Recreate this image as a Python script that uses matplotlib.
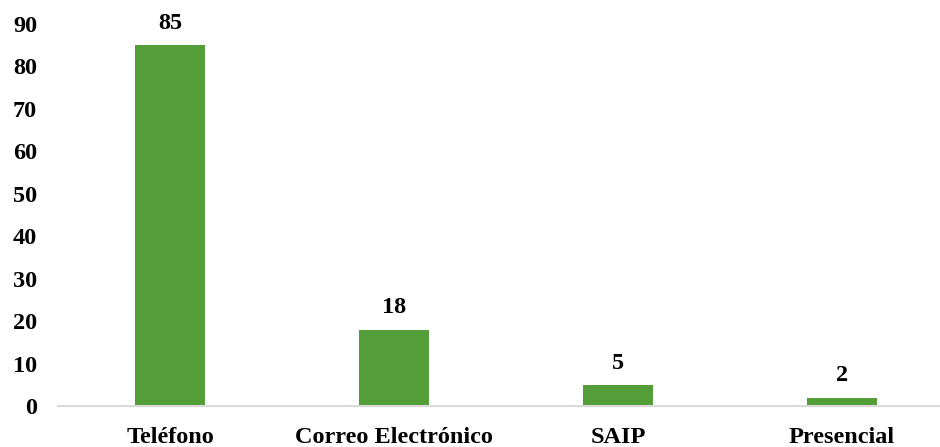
import matplotlib
matplotlib.use("Agg")
import matplotlib.pyplot as plt

categories = ["Teléfono", "Correo Electrónico", "SAIP", "Presencial"]
values = [85, 18, 5, 2]
yticks = [0, 10, 20, 30, 40, 50, 60, 70, 80, 90]

plt.rcParams['font.family'] = ['Liberation Serif', 'DejaVu Serif']
plt.rcParams['font.weight'] = 'bold'

W, H = 940, 447
fig = plt.figure(figsize=(W/100, H/100), dpi=100)
left, right = 58, 940
bottom, top = 406, 24
ax = fig.add_axes([left/W, 1 - bottom/H, (right-left)/W, (bottom-top)/H])

FS = 17.5
x = list(range(len(categories)))
bars = ax.bar(x, values, width=70/224, color="#539E39")
for xi, v in zip(x, values):
    ax.annotate(str(v), (xi, v), xytext=(0, 8), textcoords="offset points",
                ha="center", va="bottom", fontsize=FS, fontweight="bold")

ax.set_xlim(-0.5, -0.5 + (right-left)/224)
ax.set_ylim(0, 90)
ax.set_yticks(yticks)
ax.set_xticks(x)
ax.set_xticklabels(categories)
ax.tick_params(axis="both", length=0, labelsize=FS)
ax.tick_params(axis="y", pad=15)
ax.tick_params(axis="x", pad=15)
for lbl in ax.get_xticklabels() + ax.get_yticklabels():
    lbl.set_fontweight("bold")
for s in ["top", "right", "left"]:
    ax.spines[s].set_visible(False)
ax.spines["bottom"].set_color("#D9D9D9")
ax.spines["bottom"].set_linewidth(1.5)
ax.patch.set_alpha(0)
fig.savefig("out.png", dpi=100)
